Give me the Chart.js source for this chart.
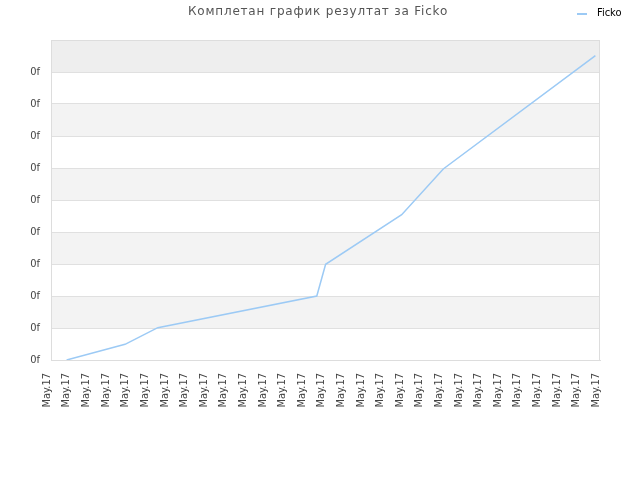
<!DOCTYPE html>
<html>
<head>
<meta charset="utf-8">
<script src="https://cdn.jsdelivr.net/npm/chart.js@4/dist/chart.umd.min.js"></script>
<style>
html,body{margin:0;padding:0;background:#fff;}
#wrap{width:640px;height:480px;position:relative;}
</style>
</head>
<body>
<div id="wrap"><canvas id="c" width="640" height="480"></canvas></div>
<script>
const chartTitle = "Комплетан график резултат за Ficko";
const seriesName = "Ficko";
const xLabels = ["May.17","May.17","May.17","May.17","May.17","May.17","May.17","May.17","May.17","May.17",
                 "May.17","May.17","May.17","May.17","May.17","May.17","May.17","May.17","May.17","May.17",
                 "May.17","May.17","May.17","May.17","May.17","May.17","May.17","May.17","May.17"];
const yTickLabel = "0f";
const seriesX = [1.00, 3.98, 5.65, 13.76, 14.21, 18.09, 20.21, 27.97];
const seriesY = [0.00, 0.49, 1.01, 2.00, 2.99, 4.54, 5.97, 9.51];

const points = seriesX.map((x, i) => ({x: x, y: seriesY[i]}));
const tickFont = {family: '"DejaVu Sans Condensed", "DejaVu Sans"', size: 11};

const bandsPlugin = {
  id: 'bands',
  beforeDraw(chart) {
    const {ctx, chartArea: a, scales: {y}} = chart;
    ctx.save();
    for (let v = 0; v < 10; v++) {
      if (v % 2 === 1) {
        const top = y.getPixelForValue(v + 1);
        const bot = y.getPixelForValue(v);
        ctx.fillStyle = (v === 9) ? '#eeeeee' : '#f3f3f3';
        ctx.fillRect(a.left, top, a.right - a.left, bot - top);
      }
    }
    ctx.restore();
  },
  beforeDatasetsDraw(chart) {
    const {ctx, chartArea: a} = chart;
    ctx.save();
    ctx.strokeStyle = '#dddddd';
    ctx.lineWidth = 1;
    ctx.strokeRect(a.left + 0.5, a.top + 0.5, a.right - a.left - 1, a.bottom - a.top);
    ctx.restore();
  },
  afterDraw(chart) {
    const ctx = chart.ctx;
    ctx.save();
    ctx.fillStyle = '#555555';
    ctx.font = '12px "DejaVu Sans"';
    if ('letterSpacing' in ctx) ctx.letterSpacing = '0.8px';
    ctx.textAlign = 'center';
    ctx.textBaseline = 'middle';
    ctx.fillText(chartTitle, 318, 12);
    if ('letterSpacing' in ctx) ctx.letterSpacing = '0px';
    // legend
    ctx.strokeStyle = '#9ccaf5';
    ctx.lineWidth = 2;
    ctx.beginPath();
    ctx.moveTo(577, 14);
    ctx.lineTo(587, 14);
    ctx.stroke();
    ctx.fillStyle = '#000000';
    ctx.font = '11px "DejaVu Sans Condensed", "DejaVu Sans"';
    ctx.textAlign = 'left';
    ctx.fillText(seriesName, 597, 13);
    ctx.restore();
  }
};

new Chart(document.getElementById('c'), {
  type: 'line',
  data: {
    datasets: [{
      label: seriesName,
      data: points,
      borderColor: '#9ccaf5',
      borderWidth: 1.5,
      pointRadius: 0,
      fill: false,
      tension: 0
    }]
  },
  options: {
    responsive: false,
    animation: false,
    devicePixelRatio: 1,
    layout: {padding: {top: 40, right: 40, left: 0, bottom: 0}},
    plugins: {legend: {display: false}, title: {display: false}, tooltip: {enabled: false}},
    scales: {
      x: {
        type: 'linear',
        min: 0.204,
        max: 28.204,
        grid: {display: false, drawTicks: false},
        border: {display: true, color: '#dddddd'},
        afterBuildTicks: (s) => { s.ticks = xLabels.map((_, i) => ({value: i})); },
        ticks: {
          autoSkip: false,
          minRotation: 90,
          maxRotation: 90,
          padding: 13,
          color: '#444444',
          font: tickFont,
          callback: (v) => xLabels[Math.round(v)]
        },
        afterFit: (s) => { s.height = 120; }
      },
      y: {
        min: 0,
        max: 10,
        grid: {color: '#e0e0e0', drawTicks: false},
        border: {display: true, color: '#dddddd'},
        ticks: {
          stepSize: 1,
          padding: 11,
          color: '#444444',
          font: tickFont,
          callback: (v) => (v < 10 ? yTickLabel : '')
        },
        afterFit: (s) => { s.width = 51; }
      }
    }
  },
  plugins: [bandsPlugin]
});
</script>
</body>
</html>
